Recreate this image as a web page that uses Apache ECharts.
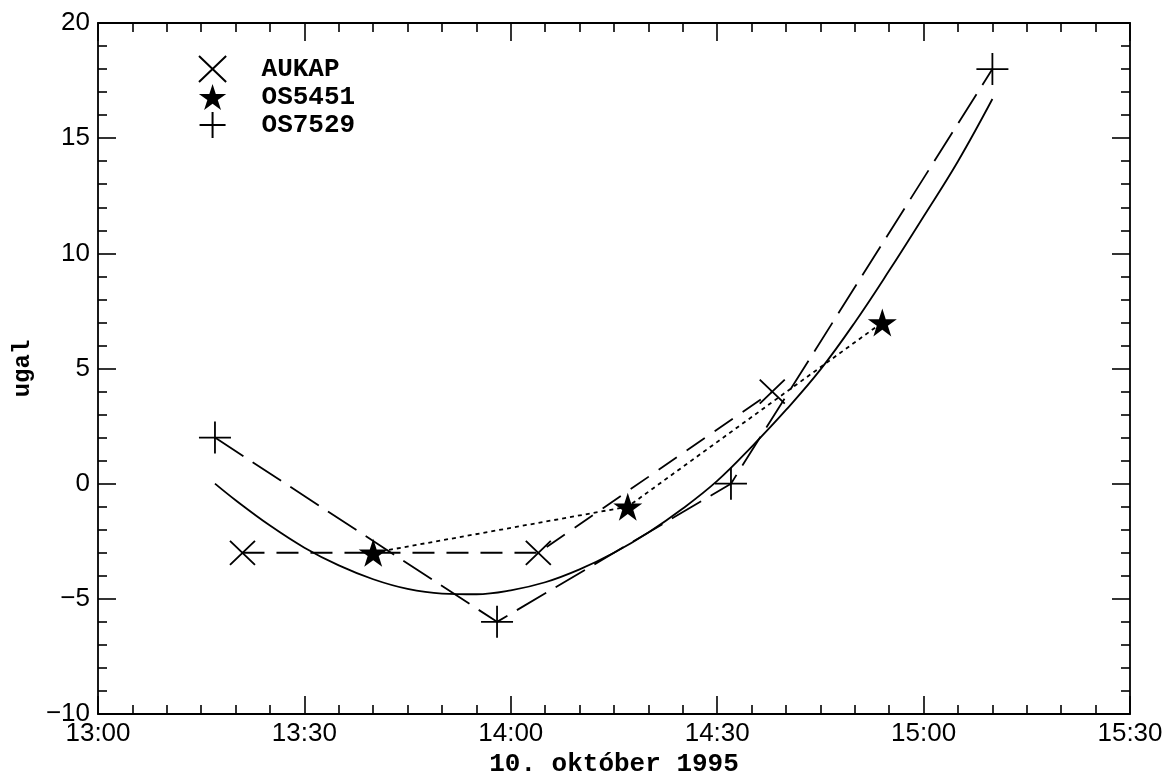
<!DOCTYPE html>
<html>
<head>
<meta charset="utf-8">
<script src="https://cdn.jsdelivr.net/npm/echarts@6/dist/echarts.min.js"></script>
<style>html,body{margin:0;padding:0;background:#fff}#c{width:1166px;height:774px}</style>
</head>
<body>
<div id="c"></div>
<script>
// ---- data (times as HH:MM, values in ugal) ----
const aukapTimes = ['13:21', '14:04', '14:38'];
const aukapValues = [-3, -3, 4];
const os5451Times = ['13:40', '14:17', '14:54'];
const os5451Values = [-3, -1, 7];
const os7529Times = ['13:17', '13:58', '14:32', '15:10'];
const os7529Values = [2, -6, 0, 18];
const fitTimes = ['13:17','13:20','13:25','13:30','13:35','13:40','13:45','13:50','13:55','14:00','14:05','14:10','14:15','14:20','14:25','14:30','14:35','14:40','14:45','14:50','14:55','15:00','15:05','15:10'];
const fitValues = [0.0,-0.72,-1.82,-2.78,-3.55,-4.15,-4.57,-4.77,-4.8,-4.63,-4.28,-3.72,-3.0,-2.12,-1.08,0.12,1.6,3.2,4.95,7.0,9.25,11.6,14.0,16.7];
const xTickLabels = ['13:00', '13:30', '14:00', '14:30', '15:00', '15:30'];
const seriesNames = ['AUKAP', 'OS5451', 'OS7529'];
const xTitle = '10. október 1995';
const yTitle = 'ugal';

function toMin(t) { const p = t.split(':'); return (+p[0] - 13) * 60 + (+p[1]); }
function pairs(ts, vs) { return ts.map((t, i) => [toMin(t), vs[i]]); }

const XPATH = 'path://M0,0 L24,23 M24,0 L0,23';
const PLUSPATH = 'path://M0,16 L32,16 M16,0 L16,32';
const STARPATH = 'path://M50,0 L61.23,34.55 L97.55,34.55 L68.17,55.9 L79.39,90.45 L50,69.1 L20.61,90.45 L31.83,55.9 L2.45,34.55 L38.77,34.55 Z';

const tickFont = 'Liberation Sans';
const monoFont = 'Liberation Mono';
const LW = 1.8;

function xAxisDef(pos, showLabel) {
  return {
    type: 'value', position: pos, min: 0, max: 150, interval: 30,
    axisLine: { show: true, onZero: false, lineStyle: { color: '#000', width: 1.8 } },
    axisTick: { show: true, inside: true, length: 18, lineStyle: { color: '#000', width: 1.6 } },
    minorTick: { show: true, splitNumber: 6, length: 9, lineStyle: { color: '#000', width: 1.6 } },
    splitLine: { show: false },
    axisLabel: { show: showLabel, color: '#000', fontFamily: tickFont, fontSize: 26, margin: 7,
      formatter: v => xTickLabels[Math.round(v / 30)] },
    name: showLabel ? xTitle : '', nameLocation: 'middle', nameGap: 29,
    nameTextStyle: { color: '#000', fontFamily: monoFont, fontSize: 26, fontWeight: 'bold' }
  };
}
function yAxisDef(pos, showLabel) {
  return {
    type: 'value', position: pos, min: -10, max: 20, interval: 5,
    axisLine: { show: true, onZero: false, lineStyle: { color: '#000', width: 1.8 } },
    axisTick: { show: true, inside: true, length: 18, lineStyle: { color: '#000', width: 1.6 } },
    minorTick: { show: true, splitNumber: 5, length: 9, lineStyle: { color: '#000', width: 1.6 } },
    splitLine: { show: false },
    axisLabel: { show: showLabel, color: '#000', fontFamily: tickFont, fontSize: 26, margin: 8,
      formatter: v => String(v).replace('-', '\u2212') },
    name: showLabel ? yTitle : '', nameLocation: 'middle', nameGap: 57, nameRotate: 90,
    nameTextStyle: { color: '#000', fontFamily: monoFont, fontSize: 24, fontWeight: 'bold' }
  };
}

const chart = echarts.init(document.getElementById('c'), null, { renderer: 'canvas' });
chart.setOption({
  backgroundColor: '#fff',
  animation: false,
  grid: { left: 98, right: 36, top: 23, bottom: 60, containLabel: false, outerBoundsMode: 'none' },
  xAxis: [xAxisDef('bottom', true), xAxisDef('top', false)],
  yAxis: [yAxisDef('left', true), yAxisDef('right', false)],
  legend: {
    orient: 'vertical', left: 198, top: 55, padding: 0, itemWidth: 30, itemHeight: 26, itemGap: 1,
    textStyle: { color: '#000', fontFamily: monoFont, fontSize: 26, lineHeight: 26, fontWeight: 'bold', padding: [0, 0, 0, 29] },
    data: [
      { name: seriesNames[0], icon: XPATH },
      { name: seriesNames[1], icon: STARPATH },
      { name: seriesNames[2], icon: PLUSPATH }
    ]
  },
  series: [
    {
      name: 'fit', type: 'line', data: pairs(fitTimes, fitValues), smooth: 0.4, showSymbol: false,
      lineStyle: { color: '#000', width: LW, type: 'solid' }, z: 2, silent: true
    },
    {
      name: seriesNames[0], type: 'line', data: pairs(aukapTimes, aukapValues),
      symbol: XPATH, symbolSize: [25, 24],
      itemStyle: { color: '#000', borderColor: '#000', borderWidth: LW },
      lineStyle: { color: '#000', width: LW, type: [22, 12] }, z: 3
    },
    {
      name: seriesNames[1], type: 'line', data: pairs(os5451Times, os5451Values),
      symbol: STARPATH, symbolSize: [29, 28],
      itemStyle: { color: '#000', borderColor: '#000', borderWidth: 0 },
      lineStyle: { color: '#000', width: LW, type: [4, 4] }, z: 3
    },
    {
      name: seriesNames[2], type: 'line', data: pairs(os7529Times, os7529Values),
      symbol: PLUSPATH, symbolSize: 32,
      itemStyle: { color: '#000', borderColor: '#000', borderWidth: LW },
      lineStyle: { color: '#000', width: LW, type: [34, 11] }, z: 3
    }
  ]
});
</script>
</body>
</html>
